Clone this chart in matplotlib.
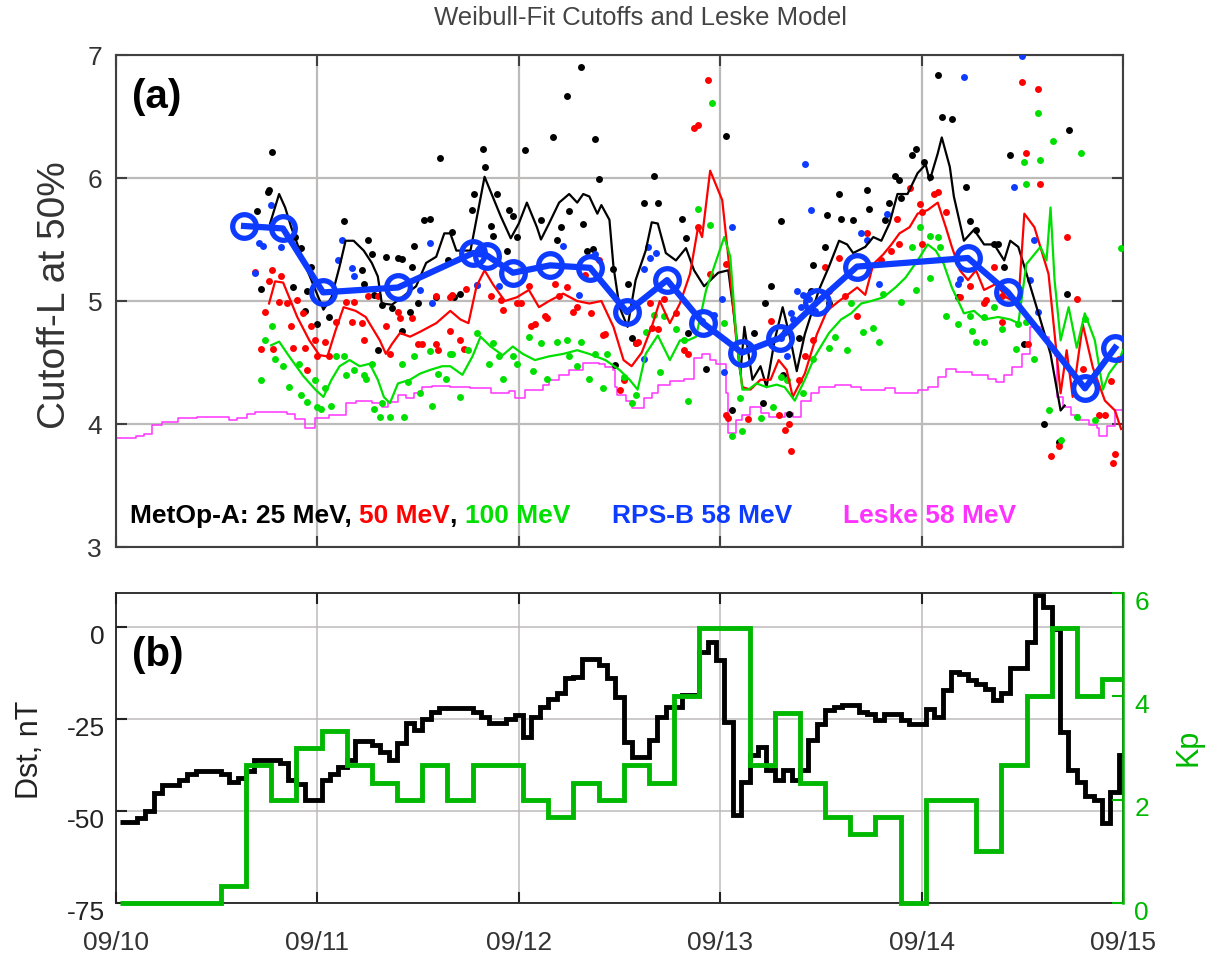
import numpy as np
import matplotlib
matplotlib.use("Agg")
import matplotlib.pyplot as plt
from matplotlib.transforms import ScaledTranslation

plt.rcParams['font.family'] = ['Liberation Sans', 'DejaVu Sans']

# ---------------- panel (a): cutoff L vs time (days since 09/10) ----------------
day_labels = ['09/10', '09/11', '09/12', '09/13', '09/14', '09/15']

# MetOp-A 25 MeV points
t25 = [0.775, 0.758, 0.70, 0.755, 1.61, 1.13, 1.25, 1.27, 1.34, 1.40, 1.42, 1.48, 1.47, 1.53, 1.56,
       1.65, 0.89, 0.92, 0.97, 0.88, 0.72, 0.95, 0.94, 1.00, 1.06, 1.22, 1.23, 1.28, 1.32, 1.37,
       1.42, 1.46, 1.50, 1.59, 1.30, 1.68, 2.31, 2.24, 2.17, 2.38, 2.03, 1.82, 3.03, 2.67, 2.62,
       2.69, 2.81, 2.83, 1.83, 1.77, 1.78, 1.89, 1.95, 1.97, 1.99, 1.87, 1.67, 1.71, 1.86, 1.94,
       2.11, 2.19, 2.21, 2.25, 2.32, 2.34, 2.37, 2.40, 2.47, 2.54, 2.56, 2.58, 2.48, 2.84, 2.93,
       3.30, 3.25, 3.22, 3.17, 3.06, 3.21, 3.31, 3.32, 3.53, 3.59, 3.73, 3.74, 3.66, 3.60, 3.52,
       3.46, 3.45, 3.54, 3.39, 3.34, 3.87, 3.89, 3.84, 3.90, 3.95, 3.97, 4.01, 4.04, 4.22, 4.24,
       4.27, 4.36, 4.38, 4.41, 4.18, 4.44, 4.72, 4.61, 4.68, 4.51, 3.82, 4.08, 4.10, 4.15, 4.73]
L25 = [6.21, 5.90, 5.73, 5.89, 6.16, 5.65, 5.50, 5.38, 5.36, 5.35, 5.34, 5.45, 5.28, 5.66, 5.67,
       5.33, 5.52, 5.43, 5.28, 5.11, 5.10, 5.08, 4.92, 4.81, 4.87, 5.25, 5.14, 5.05, 4.97, 4.94,
       4.76, 4.91, 4.98, 5.03, 4.60, 5.03, 6.90, 6.67, 6.33, 6.32, 6.23, 6.24, 6.34, 6.02, 5.80,
       5.80, 5.67, 5.51, 6.09, 5.74, 5.87, 5.87, 5.74, 5.69, 5.52, 5.53, 5.56, 5.06, 5.61, 5.41,
       5.66, 5.50, 5.60, 5.73, 5.63, 5.41, 5.42, 5.99, 5.26, 5.14, 4.70, 4.66, 4.48, 4.74, 4.45,
       5.65, 5.12, 4.98, 4.74, 4.11, 4.17, 4.40, 4.75, 5.70, 5.87, 5.90, 5.75, 5.66, 5.67, 5.44,
       5.29, 5.08, 4.98, 4.70, 4.08, 6.02, 5.98, 5.80, 5.84, 6.19, 6.24, 6.13, 6.01, 5.93, 5.65,
       5.58, 5.46, 5.46, 5.28, 5.03, 6.19, 5.06, 4.00, 3.85, 4.65, 5.66, 6.84, 6.50, 6.48, 6.39]

# MetOp-A 50 MeV points
t50 = [0.69, 0.775, 0.76, 0.82, 0.74, 0.81, 0.85, 0.90, 0.87, 0.93, 0.97, 0.99, 1.04, 1.00, 0.72,
       0.78, 0.88, 0.94, 0.95, 1.06, 1.09, 1.14, 1.18, 1.17, 1.22, 1.23, 1.25, 1.30, 1.34, 1.36,
       1.40, 1.41, 1.47, 1.50, 1.52, 1.59, 1.59, 1.66, 1.66, 1.60, 1.67, 1.74, 1.71, 1.73, 1.79,
       1.86, 1.91, 1.92, 1.99, 2.01, 2.05, 2.06, 2.08, 2.13, 2.14, 2.18, 2.20, 2.24, 2.27, 2.29,
       2.33, 2.36, 2.42, 2.43, 2.40, 2.50, 2.52, 2.58, 2.59, 2.65, 2.72, 2.66, 2.69, 2.78, 2.82,
       2.84, 2.89, 2.95, 3.03, 3.03, 3.04, 3.14, 3.25, 3.29, 3.32, 3.35, 2.94, 2.87, 2.89, 3.34,
       3.39, 3.42, 3.46, 3.52, 3.59, 3.54, 3.62, 3.68, 3.73, 3.80, 3.85, 3.88, 3.89, 3.94, 3.99,
       4.00, 4.06, 4.08, 4.12, 4.00, 4.19, 4.24, 4.31, 4.32, 4.40, 4.36, 4.40, 4.53, 4.50, 4.58,
       4.52, 4.59, 4.72, 4.77, 4.80, 4.88, 4.91, 4.64, 4.68, 4.96, 4.95, 4.94, 4.98]
L50 = [5.24, 5.25, 5.16, 5.20, 4.91, 4.99, 4.98, 5.01, 4.80, 4.90, 4.80, 4.68, 4.67, 4.55, 4.61,
       4.61, 4.62, 4.62, 4.44, 4.55, 4.83, 4.99, 4.99, 4.83, 4.82, 4.68, 5.04, 5.04, 4.80, 4.57,
       4.91, 4.86, 4.86, 4.65, 4.65, 4.65, 5.04, 5.03, 4.76, 4.60, 5.05, 5.10, 4.68, 4.61, 5.13,
       5.04, 5.01, 4.93, 4.98, 4.98, 5.12, 4.80, 4.81, 4.88, 4.86, 5.14, 5.04, 5.11, 4.91, 4.95,
       5.21, 4.90, 4.72, 4.73, 5.33, 4.28, 4.36, 4.66, 4.67, 4.98, 5.02, 4.78, 4.77, 4.90, 4.60,
       4.57, 5.60, 5.22, 5.30, 4.07, 4.05, 4.04, 4.84, 4.07, 3.95, 3.78, 6.80, 6.41, 6.43, 4.00,
       4.36, 4.55, 4.68, 5.28, 5.35, 5.08, 5.04, 4.88, 5.55, 5.33, 5.41, 5.67, 5.46, 5.92, 5.79,
       5.72, 5.87, 5.89, 5.72, 5.46, 5.03, 5.12, 4.98, 5.01, 5.04, 5.28, 4.83, 4.65, 6.78, 6.72,
       6.20, 5.95, 5.52, 5.02, 4.45, 4.07, 4.07, 3.74, 3.82, 3.76, 3.68, 4.35, 4.53]

# MetOp-A 100 MeV points
t100 = [0.72, 0.775, 0.74, 0.79, 0.83, 0.86, 0.91, 0.92, 0.95, 0.99, 1.00, 1.02, 1.04, 1.07, 1.09,
        1.13, 1.14, 1.18, 1.23, 1.24, 1.27, 1.28, 1.31, 1.32, 1.36, 1.42, 1.43, 1.45, 1.48, 1.51,
        1.56, 1.57, 1.60, 1.64, 1.66, 1.67, 1.71, 1.75, 1.79, 1.85, 1.87, 1.90, 1.92, 1.97, 1.99,
        2.05, 2.07, 2.11, 2.14, 2.19, 2.24, 2.25, 2.29, 2.31, 2.35, 2.38, 2.42, 2.44, 2.52, 2.56,
        2.58, 2.63, 2.67, 2.70, 2.72, 2.78, 2.82, 2.84, 2.89, 2.95, 3.02, 3.10, 3.11, 3.06, 3.20,
        3.26, 3.30, 2.96, 3.33, 3.41, 3.46, 3.54, 3.57, 3.63, 3.65, 3.71, 3.76, 3.79, 3.81, 3.90,
        3.95, 3.97, 3.99, 4.04, 4.04, 4.08, 4.09, 4.12, 4.18, 4.24, 4.25, 4.27, 4.31, 4.31, 4.36,
        4.40, 4.47, 4.48, 4.52, 4.56, 4.63, 4.69, 4.77, 4.81, 4.86, 4.99, 4.58, 4.65, 4.79, 4.51,
        4.59, 4.52]
L100 = [4.36, 4.80, 4.68, 4.53, 4.47, 4.30, 4.49, 4.24, 4.18, 4.36, 4.14, 4.12, 4.29, 4.15, 4.55,
        4.55, 4.40, 4.44, 4.40, 4.37, 4.49, 4.12, 4.06, 4.17, 4.06, 4.49, 4.06, 4.34, 4.55, 4.25,
        4.59, 4.15, 4.41, 4.37, 4.57, 4.57, 4.22, 4.60, 4.74, 4.49, 4.66, 4.55, 4.37, 4.55, 4.49,
        4.71, 4.43, 4.66, 4.37, 4.67, 4.68, 4.55, 4.47, 4.67, 4.37, 4.57, 4.29, 4.57, 4.38, 4.17,
        4.24, 4.75, 4.89, 4.42, 4.88, 4.77, 4.68, 4.19, 5.75, 5.62, 4.82, 4.21, 3.94, 3.90, 4.05,
        4.14, 4.38, 6.61, 4.36, 4.25, 4.53, 4.62, 4.71, 4.60, 4.98, 4.75, 4.78, 4.67, 5.06, 4.99,
        5.44, 5.09, 5.60, 5.19, 5.53, 5.52, 5.44, 4.88, 4.81, 4.88, 4.76, 4.67, 4.67, 4.87, 4.95,
        4.77, 4.61, 4.81, 4.83, 4.53, 4.11, 3.87, 4.06, 4.85, 4.03, 5.43, 6.53, 6.30, 6.20, 6.13,
        6.15, 5.95]

# RPS-B 58 MeV points
t58 = [0.77, 0.71, 0.73, 0.82, 0.69, 1.12, 1.10, 1.17, 1.18, 1.56, 1.51, 1.57, 1.79, 1.82, 1.90,
       2.22, 2.30, 2.38, 2.64, 2.65, 2.68, 2.62, 2.62, 2.91, 2.97, 3.01, 3.06, 3.02, 3.30, 3.33,
       3.42, 3.45, 3.38, 3.41, 3.35, 3.36, 3.40, 3.44, 3.47, 3.70, 3.73, 3.79, 3.83, 4.18, 4.19,
       4.46, 4.56, 4.54, 4.58, 4.50, 4.21]
L58 = [5.78, 5.47, 5.45, 5.44, 5.23, 5.50, 5.33, 5.27, 5.20, 5.47, 5.09, 4.98, 5.13, 5.41, 5.12,
       5.45, 5.05, 5.38, 5.44, 5.35, 5.39, 5.26, 4.53, 4.84, 4.89, 5.02, 5.60, 4.42, 4.70, 4.55,
       6.11, 5.74, 5.08, 5.05, 4.90, 4.85, 4.95, 5.02, 4.92, 5.55, 5.50, 5.14, 5.71, 5.14, 5.18,
       5.93, 5.50, 5.17, 4.91, 6.99, 6.82]

# smoothed MetOp-A curves
line25_t = [0.765, 0.81, 0.84, 0.87, 0.93, 0.99, 1.03, 1.07, 1.11, 1.14, 1.18, 1.23, 1.27, 1.30,
            1.32, 1.37, 1.42, 1.49, 1.54, 1.59, 1.63, 1.66, 1.69, 1.76, 1.78, 1.83, 1.91, 1.96,
            2.00, 2.04, 2.09, 2.11, 2.15, 2.20, 2.25, 2.29, 2.32, 2.35, 2.39, 2.41, 2.45, 2.47,
            2.50, 2.54, 2.58, 2.63, 2.66, 2.69, 2.73, 2.78, 2.83, 2.87, 2.92, 2.99, 3.04, 3.07,
            3.10, 3.12, 3.16, 3.20, 3.23, 3.27, 3.31, 3.35, 3.38, 3.42, 3.49, 3.54, 3.59, 3.63,
            3.66, 3.72, 3.76, 3.80, 3.84, 3.88, 3.93, 3.98, 4.02, 4.04, 4.08, 4.10, 4.14, 4.16,
            4.21, 4.26, 4.31, 4.36, 4.41, 4.44, 4.48, 4.51, 4.58, 4.64, 4.69, 4.71]
line25_L = [5.63, 5.87, 5.76, 5.60, 5.33, 5.09, 4.93, 5.03, 5.28, 5.49, 5.49, 5.41, 5.31, 5.20,
            4.98, 4.97, 5.03, 5.12, 5.31, 5.36, 5.55, 5.55, 5.41, 5.41, 5.58, 6.01, 5.69, 5.51,
            5.63, 5.80, 5.60, 5.50, 5.63, 5.80, 5.87, 5.80, 5.87, 5.85, 5.71, 5.78, 5.66, 5.28,
            4.95, 4.79, 5.17, 5.41, 5.64, 5.63, 5.39, 5.33, 5.43, 5.25, 5.12, 5.23, 5.25, 4.87,
            4.41, 4.79, 4.36, 4.47, 4.30, 4.68, 4.95, 4.68, 4.43, 4.73, 5.09, 5.28, 5.49, 5.46,
            5.39, 5.44, 5.52, 5.49, 5.63, 5.87, 5.87, 6.04, 6.11, 5.98, 6.20, 6.33, 6.09, 5.85,
            5.49, 5.58, 5.46, 5.46, 5.33, 5.49, 5.44, 5.28, 4.90, 4.57, 4.11, 4.15]

line50_t = [0.76, 0.79, 0.83, 0.86, 0.90, 0.96, 1.01, 1.05, 1.09, 1.13, 1.19, 1.24, 1.31, 1.34,
            1.37, 1.41, 1.46, 1.51, 1.59, 1.66, 1.71, 1.75, 1.79, 1.83, 1.87, 1.93, 1.99, 2.05,
            2.10, 2.15, 2.22, 2.29, 2.35, 2.41, 2.47, 2.52, 2.56, 2.61, 2.66, 2.70, 2.75, 2.80,
            2.85, 2.89, 2.91, 2.95, 3.01, 3.04, 3.08, 3.11, 3.15, 3.20, 3.25, 3.29, 3.33, 3.36,
            3.42, 3.48, 3.53, 3.59, 3.64, 3.68, 3.72, 3.76, 3.81, 3.85, 3.89, 3.94, 3.98, 4.03,
            4.08, 4.12, 4.15, 4.19, 4.23, 4.27, 4.31, 4.37, 4.42, 4.48, 4.51, 4.56, 4.63, 4.69,
            4.72, 4.75, 4.80, 4.85, 4.91, 4.96, 4.99]
line50_L = [4.98, 5.16, 5.15, 5.03, 4.87, 4.68, 4.56, 4.55, 4.76, 4.95, 4.92, 4.87, 4.68, 4.57,
            4.65, 4.74, 4.71, 4.75, 4.82, 4.92, 4.85, 4.82, 5.12, 5.25, 5.14, 5.00, 5.03, 5.09,
            4.95, 5.00, 5.06, 5.00, 4.98, 5.00, 4.79, 4.52, 4.47, 4.58, 4.79, 5.00, 4.82, 4.98,
            5.22, 5.60, 5.52, 6.06, 5.82, 5.36, 4.68, 4.30, 4.28, 4.36, 4.36, 4.52, 4.44, 4.22,
            4.41, 4.73, 4.92, 5.00, 5.06, 5.11, 5.05, 5.30, 5.38, 5.46, 5.55, 5.60, 5.71, 5.74,
            5.80, 5.60, 5.44, 5.25, 5.17, 5.25, 5.09, 5.14, 5.03, 4.98, 5.71, 5.60, 5.22, 4.25,
            4.60, 4.22, 4.81, 4.46, 4.19, 4.11, 3.96]

line100_t = [0.77, 0.81, 0.86, 0.93, 0.99, 1.03, 1.07, 1.11, 1.16, 1.21, 1.26, 1.30, 1.33, 1.36,
             1.40, 1.46, 1.51, 1.56, 1.62, 1.66, 1.72, 1.77, 1.81, 1.86, 1.92, 1.97, 2.02, 2.08,
             2.15, 2.22, 2.29, 2.35, 2.43, 2.50, 2.55, 2.59, 2.63, 2.69, 2.75, 2.80, 2.84, 2.88,
             2.93, 2.97, 3.02, 3.05, 3.08, 3.11, 3.14, 3.18, 3.23, 3.28, 3.32, 3.37, 3.42, 3.47,
             3.54, 3.60, 3.65, 3.70, 3.75, 3.81, 3.87, 3.92, 3.98, 4.03, 4.07, 4.11, 4.15, 4.21,
             4.26, 4.31, 4.38, 4.44, 4.48, 4.52, 4.59, 4.62, 4.64, 4.66, 4.69, 4.73, 4.77, 4.81,
             4.86, 4.90, 4.93, 4.98, 5.0]
line100_L = [4.64, 4.67, 4.55, 4.39, 4.28, 4.22, 4.36, 4.47, 4.52, 4.47, 4.49, 4.36, 4.22, 4.17,
             4.33, 4.36, 4.41, 4.44, 4.47, 4.47, 4.40, 4.55, 4.71, 4.63, 4.56, 4.63, 4.57, 4.52,
             4.55, 4.57, 4.60, 4.57, 4.52, 4.44, 4.36, 4.28, 4.57, 4.72, 4.52, 4.68, 4.68, 4.71,
             5.09, 5.28, 5.52, 5.36, 4.71, 4.28, 4.28, 4.33, 4.30, 4.32, 4.30, 4.19, 4.36, 4.55,
             4.74, 4.85, 4.90, 4.98, 5.00, 5.03, 5.11, 5.19, 5.33, 5.46, 5.41, 5.30, 5.11, 4.90,
             4.92, 4.85, 4.87, 4.85, 4.82, 5.30, 5.44, 5.33, 5.76, 5.17, 4.68, 4.95, 4.62, 4.90,
             4.68, 4.28, 4.41, 4.52, 4.60]

# RPS-B binned averages
rps_t = [0.636, 0.829, 1.028, 1.400, 1.773, 1.842, 1.971, 2.155, 2.354, 2.537, 2.736, 2.915,
         3.108, 3.297, 3.481, 3.679, 4.230, 4.429, 4.811, 4.960]
rps_L = [5.61, 5.59, 5.07, 5.11, 5.39, 5.37, 5.23, 5.29, 5.27, 4.91, 5.17, 4.82, 4.58, 4.70,
         4.99, 5.28, 5.35, 5.07, 4.29, 4.62]

# Leske model (step)
leske_t = [0.0, 0.10, 0.14, 0.18, 0.23, 0.31, 0.40, 0.51, 0.56, 0.60, 0.65, 0.69, 0.78, 0.85,
           0.89, 0.94, 0.99, 1.06, 1.14, 1.19, 1.27, 1.32, 1.35, 1.40, 1.44, 1.48, 1.52, 1.57,
           1.66, 1.76, 1.86, 1.95, 1.98, 2.03, 2.12, 2.15, 2.20, 2.25, 2.32, 2.40, 2.43, 2.47,
           2.48, 2.49, 2.53, 2.56, 2.62, 2.66, 2.69, 2.75, 2.82, 2.87, 2.91, 2.95, 2.98, 3.03,
           3.04, 3.08, 3.11, 3.15, 3.20, 3.24, 3.32, 3.36, 3.40, 3.45, 3.49, 3.57, 3.65, 3.70,
           3.82, 3.87, 3.98, 4.03, 4.08, 4.12, 4.17, 4.25, 4.33, 4.37, 4.41, 4.45, 4.50, 4.54,
           4.60, 4.63, 4.66, 4.67, 4.70, 4.74, 4.78, 4.83, 4.87, 4.88, 4.92, 4.96, 5.0]
leske_L = [3.89, 3.90, 3.92, 3.99, 4.02, 4.05, 4.06, 4.06, 4.03, 4.05, 4.08, 4.10, 4.10, 4.08,
           4.04, 3.97, 4.05, 4.07, 4.17, 4.19, 4.17, 4.14, 4.18, 4.24, 4.21, 4.25, 4.30, 4.31,
           4.30, 4.29, 4.25, 4.27, 4.21, 4.28, 4.32, 4.36, 4.40, 4.44, 4.50, 4.49, 4.46, 4.44,
           4.30, 4.24, 4.19, 4.13, 4.21, 4.25, 4.32, 4.35, 4.37, 4.54, 4.57, 4.52, 4.49, 4.25,
           3.93, 4.03, 4.07, 4.14, 4.09, 4.06, 4.09, 4.06, 4.19, 4.25, 4.30, 4.32, 4.30, 4.28,
           4.29, 4.25, 4.28, 4.30, 4.38, 4.45, 4.42, 4.40, 4.37, 4.34, 4.40, 4.46, 4.57, 4.79,
           4.71, 4.63, 4.55, 4.22, 4.14, 4.07, 4.03, 3.99, 3.97, 3.90, 3.98, 4.11, 4.11]

# ---------------- panel (b): Dst (hourly) and Kp (3-hourly) ----------------
dst = [-53, -53, -52, -50, -45, -43, -43, -41.5, -40, -39, -39, -39,
       -40, -42, -41, -39, -36, -36, -36, -37, -41.5, -42.5, -47, -47,
       -41.5, -40, -38, -36, -31, -31, -32, -34, -36, -31.5, -26, -28,
       -25, -23, -22, -22, -22, -22, -23, -24.5, -26, -26, -25, -24,
       -29.8, -24.4, -21.6, -19.4, -18, -13.9, -13.5, -8.5, -8.5, -10.3, -13.9, -18.9,
       -31.2, -35.2, -35.2, -30.7, -24.4, -21.6, -21.6, -18.5, -18.5, -6.7, -4, -9,
       -25.7, -51.1, -42, -34.8, -32.5, -38.9, -41.6, -38.9, -41.6, -38.9, -30.7, -26.2,
       -22.5, -21.6, -21.2, -21.2, -23, -23.5, -25.3, -23.5, -23.5, -25.3, -26.2, -26.2,
       -22.1, -24.4, -17.1, -12.1, -12.6, -14.4, -15.3, -16.7, -19.8, -18, -11.2, -11.2,
       -4, 8.7, 5.5, -0.4, -28.4, -38.9, -42, -46, -47, -53.3, -44.7, -34.8]
kp = [0, 0, 0, 0, 0.33, 2.67, 2, 3, 3.33, 2.67, 2.33, 2,
      2.67, 2, 2.67, 2.67, 2, 1.67, 2.33, 2, 2.67, 2.33, 4, 5.33,
      5.33, 2.67, 3.67, 2.33, 1.67, 1.33, 1.67, 0, 2, 2, 1, 2.67,
      4, 5.33, 4, 4.33]

BLACK = 'black'
RED = '#ff0000'
GREEN = '#00e000'
BLUE = '#0d3bff'
MAGENTA = '#ff33ff'
KPGREEN = '#00b800'
GRID = '#bdbaba'
FRAME = '#404040'

fig = plt.figure(figsize=(12.17, 9.57), dpi=100)
ax = fig.add_axes([0.0953, 0.4284, 0.8275, 0.5141])
axb = fig.add_axes([0.0953, 0.0564, 0.8275, 0.3239])

# ---- panel (a)
ax.step(leske_t, leske_L, where='post', color=MAGENTA, lw=1.1, zorder=2)
ax.plot(t25, L25, 'o', color=BLACK, ms=5, mec='none', zorder=3)
ax.plot(t50, L50, 'o', color=RED, ms=5, mec='none', zorder=3)
ax.plot(t100, L100, 'o', color=GREEN, ms=5, mec='none', zorder=3)
ax.plot(t58, L58, 'o', color=BLUE, ms=5, mec='none', zorder=3)
ax.plot(line25_t, line25_L, color=BLACK, lw=1.6, zorder=4)
ax.plot(line50_t, line50_L, color=RED, lw=1.6, zorder=4)
ax.plot(line100_t, line100_L, color=GREEN, lw=1.6, zorder=4)
ax.plot(rps_t, rps_L, '-o', color=BLUE, lw=4.5, ms=17, mfc='none', mew=3.8, zorder=5)

ax.set_xlim(0, 5)
ax.set_ylim(3, 7)
ax.set_xticks(range(6))
ax.set_xticklabels([])
ax.set_yticks([3, 4, 5, 6, 7])
ax.grid(True, color=GRID, lw=1.6)
ax.set_axisbelow(True)
ax.tick_params(direction='in', length=8, width=1.5, top=True, right=True,
               labelsize=19, colors=FRAME, labelcolor='#333333', pad=10)
for s in ax.spines.values():
    s.set_color(FRAME)
    s.set_linewidth(1.5)
ax.text(0.016, 0.915, '(a)', transform=ax.transAxes, fontsize=29,
        fontweight='bold', va='center', ha='left')

# colored legend text
leg = ax.text(0.014, 0.049, 'MetOp-A: 25 MeV, ', transform=ax.transAxes, fontsize=19,
              fontweight='bold', color=BLACK, va='baseline', ha='left')
prev = leg
for txt, col in [('50 MeV', RED), (', ', BLACK), ('100 MeV', GREEN)]:
    prev = ax.annotate(txt, xycoords=prev, xy=(1, 0), va='bottom', ha='left',
                       fontsize=19, fontweight='bold', color=col)
ax.text(0.4925, 0.049, 'RPS-B 58 MeV', transform=ax.transAxes, fontsize=19,
        fontweight='bold', color=BLUE, va='baseline', ha='left')
ax.text(0.722, 0.049, 'Leske 58 MeV', transform=ax.transAxes, fontsize=19,
        fontweight='bold', color=MAGENTA, va='baseline', ha='left')

# ---- panel (b)
dst_edges = np.minimum((np.arange(len(dst) + 1) + 0.5) / 24, 5)
kp_edges = np.minimum((np.arange(len(kp) + 1) * 3 + 0.5) / 24, 5)
axb.stairs(dst, dst_edges, baseline=None, color=BLACK, lw=3.5)
axb.set_xlim(0, 5)
axb.set_ylim(-75, 9.3)
axb.set_yticks([-75, -50, -25, 0])
axb.set_yticklabels(['-75', '-50', '-25', '0'])
axb.set_xticks(range(6))
axb.set_xticklabels(day_labels)
axb.grid(True, color=GRID, lw=1.1)
axb.set_axisbelow(True)
axb.tick_params(direction='in', length=8, width=1.5, top=True, right=True,
                labelsize=19, colors='#222222', labelcolor='#222222', pad=8)
axb.tick_params(axis='x', labelcolor='#333333', pad=20)
for s in axb.spines.values():
    s.set_color('#222222')
    s.set_linewidth(1.3)
axb.text(0.016, 0.80, '(b)', transform=axb.transAxes, fontsize=29,
         fontweight='bold', va='center', ha='left')

axk = axb.twinx()
axk.stairs(kp, kp_edges, baseline=None, color=KPGREEN, lw=3.5, clip_on=False)
axk.set_ylim(0, 6)
axk.set_yticks([0, 2, 4, 6])
axk.tick_params(direction='in', length=8, width=1.5, labelsize=19,
                colors=KPGREEN, labelcolor=KPGREEN, pad=8)
axk.spines['right'].set_color(KPGREEN)
axk.spines['right'].set_linewidth(1.8)
for k in ['left', 'top', 'bottom']:
    axk.spines[k].set_visible(False)

# the tick labels of panel (b) sit a little below their ticks
shift = ScaledTranslation(0, -7 / 100, fig.dpi_scale_trans)
for lbl in axb.get_yticklabels() + axk.get_yticklabels():
    lbl.set_transform(lbl.get_transform() + shift)

# labels and title
fig.text(640 / 1217, 1 - 18 / 957, 'Weibull-Fit Cutoffs and Leske Model', fontsize=18.5,
         color='#444444', ha='center', va='center')
fig.text(55 / 1217, 1 - 295 / 957, 'Cutoff-L at 50%', fontsize=28, rotation=90,
         color='#333333', ha='center', va='center')
fig.text(30 / 1217, 1 - 750 / 957, 'Dst, nT', fontsize=22, rotation=90,
         color='#222222', ha='center', va='center')
fig.text(1188 / 1217, 1 - 747 / 957, 'Kp', fontsize=22, rotation=90,
         color=KPGREEN, ha='center', va='center')

fig.savefig('out.png', dpi=100)
